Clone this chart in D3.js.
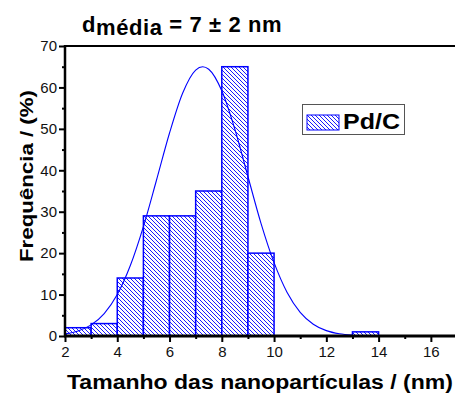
<!DOCTYPE html>
<html><head><meta charset="utf-8">
<script src="https://cdn.jsdelivr.net/npm/d3@7"></script>
<style>body{margin:0;background:#fff;}svg{display:block;font-family:Arial,"Liberation Sans",sans-serif;}</style>
</head><body>
<svg id="c" width="455" height="396"></svg>
<script>
// histogram bins (nm) and frequencies (%)
const binStart = [2, 3, 4, 5, 6, 7, 8, 9, 13];
const binEnd   = [3, 4, 5, 6, 7, 8, 9, 10, 14];
const freq     = [2, 3, 14, 29, 29, 35, 65, 20, 1];
// fitted curve points
const curveX = [2, 2.5, 3, 3.5, 4, 4.5, 5, 5.5, 6, 6.5, 7, 7.27, 7.5, 8, 8.5, 9, 9.5, 10, 10.5, 11, 11.5, 12, 12.5, 13];
const curveY = [0.51, 1.22, 2.68, 5.42, 10.0, 17.0, 26.4, 37.6, 49.0, 58.6, 64.2, 65, 64.4, 59.2, 49.9, 38.5, 27.2, 17.7, 10.5, 5.71, 2.85, 1.30, 0.54, 0.21];
const xTicks = [2, 4, 6, 8, 10, 12, 14, 16];
const xMinor = [3, 5, 7, 9, 11, 13, 15];
const yTicks = [0, 10, 20, 30, 40, 50, 60, 70];
const yMinor = [5, 15, 25, 35, 45, 55, 65];
const seriesName = "Pd/C";

const svg = d3.select("#c");
const L = 65, R = 457, T = 46, B = 336;
const x = d3.scaleLinear().domain([2, 17]).range([L, R]);
const y = d3.scaleLinear().domain([0, 70]).range([B, T]);
const blue = "#0000ff";

const defs = svg.append("defs");
const pat = defs.append("pattern").attr("id", "hatch").attr("patternUnits", "userSpaceOnUse")
  .attr("width", 4).attr("height", 4);
pat.append("rect").attr("width", 4).attr("height", 4).attr("fill", "#fff");
pat.append("path").attr("d", "M-1,-1 L5,5 M-1,3 L1,5 M3,-1 L5,1").attr("stroke", blue).attr("stroke-width", 0.9);
defs.append("clipPath").attr("id", "clip").append("rect").attr("x", L).attr("y", T).attr("width", 455 - L).attr("height", B - T);

const g = svg.append("g").attr("clip-path", "url(#clip)");
const bins = freq.map((f, i) => ({ a: binStart[i], b: binEnd[i], f }));
g.selectAll("rect.bar").data(bins).join("rect").attr("class", "bar")
  .attr("x", d => x(d.a)).attr("width", d => x(d.b) - x(d.a))
  .attr("y", d => y(d.f)).attr("height", d => y(0) - y(d.f))
  .attr("fill", "url(#hatch)").attr("stroke", blue).attr("stroke-width", 1.5);

const line = d3.line().x((d, i) => x(curveX[i])).y(d => y(d)).curve(d3.curveMonotoneX);
g.append("path").attr("d", line(curveY)).attr("fill", "none").attr("stroke", blue).attr("stroke-width", 1.1);

// axes
svg.append("g").attr("transform", `translate(0,${B})`)
  .call(d3.axisBottom(x).tickValues(xTicks).tickSize(6).tickPadding(4).tickFormat(d3.format("d")));
svg.append("g").attr("transform", `translate(0,${B})`)
  .call(d3.axisBottom(x).tickValues(xMinor).tickSize(3).tickFormat(""));
svg.append("g").attr("transform", `translate(${L},0)`)
  .call(d3.axisLeft(y).tickValues(yTicks).tickSize(6).tickPadding(2).tickFormat(d3.format("d")));
svg.append("g").attr("transform", `translate(${L},0)`)
  .call(d3.axisLeft(y).tickValues(yMinor).tickSize(3).tickFormat(""));
svg.selectAll(".domain").remove();
svg.selectAll(".tick line").attr("stroke", "#000").attr("stroke-width", 2);
svg.selectAll(".tick text").attr("fill", "#111").style("font-size", "15px").style("font-family", "Arial, 'Liberation Sans', sans-serif");

svg.append("line").attr("x1", L).attr("x2", L).attr("y1", T - 1).attr("y2", B + 1).attr("stroke", "#000").attr("stroke-width", 2.5);
svg.append("line").attr("x1", L - 1).attr("x2", 455).attr("y1", B).attr("y2", B).attr("stroke", "#000").attr("stroke-width", 3);
svg.append("line").attr("x1", L - 1).attr("x2", 455).attr("y1", T).attr("y2", T).attr("stroke", "#000").attr("stroke-width", 2);

// axis titles
svg.append("text").attr("x", 67).attr("y", 389)
  .attr("textLength", 386).attr("lengthAdjust", "spacingAndGlyphs")
  .style("font-size", "20px").style("font-weight", "bold").text("Tamanho das nanopartículas / (nm)");
svg.append("text").attr("transform", "translate(33,262) rotate(-90)")
  .attr("textLength", 172).attr("lengthAdjust", "spacingAndGlyphs")
  .style("font-size", "19px").style("font-weight", "bold").text("Frequência / (%)");

// title
const title = svg.append("text").attr("x", 82).attr("y", 32).style("font-size", "22px").style("font-weight", "bold")
  .style("letter-spacing", "0.6px");
title.append("tspan").text("d");
title.append("tspan").attr("dy", 3).text("média");
title.append("tspan").attr("dy", -3).text(" = 7 ± 2 nm");

// legend
const lg = svg.append("g");
lg.append("rect").attr("x", 302.5).attr("y", 104.5).attr("width", 102).attr("height", 30)
  .attr("fill", "#fff").attr("stroke", "#555").attr("stroke-width", 1);
lg.append("rect").attr("x", 307).attr("y", 115).attr("width", 32).attr("height", 15)
  .attr("fill", "url(#hatch)").attr("stroke", blue).attr("stroke-width", 1);
lg.append("text").attr("x", 343).attr("y", 129).attr("textLength", 57).attr("lengthAdjust", "spacingAndGlyphs")
  .style("font-size", "22px").style("font-weight", "bold").text(seriesName);
</script>
</body></html>
